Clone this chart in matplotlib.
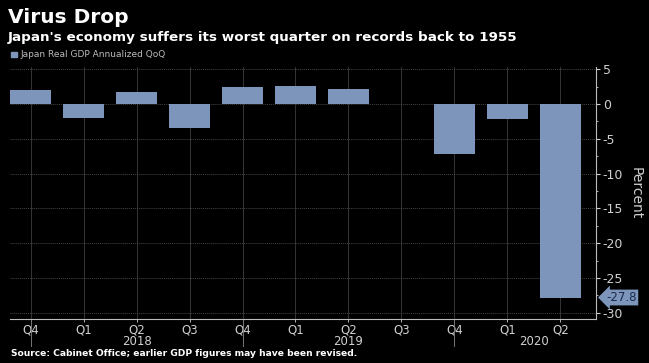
import matplotlib.pyplot as plt
import matplotlib.transforms as mtransforms
import numpy as np

quarters = ["Q4", "Q1", "Q2", "Q3", "Q4", "Q1", "Q2", "Q3", "Q4", "Q1", "Q2"]
gdp = [2.0, -2.0, 1.8, -3.4, 2.4, 2.6, 2.1, 0.05, -7.2, -2.2, -27.8]
years = ["2018", "2019", "2020"]
year_pos = [2, 6, 9.5]

bar_col = "#7d95bb"
txt_col = "#d0d0d0"

fig = plt.figure(figsize=(6.49, 3.63), dpi=100, facecolor="black")
ax = fig.add_axes([0.0154, 0.121, 0.9026, 0.694])
ax.set_facecolor("black")

x = np.arange(len(gdp))
ax.bar(x, gdp, width=0.78, color=bar_col, zorder=3)

ax.set_xlim(-0.39, 10.67)
ax.set_ylim(-30.9, 5.3)

# grid
for xi in x:
    ax.axvline(xi, color="#353535", lw=0.7, zorder=1)
for yv in range(5, -31, -5):
    ax.axhline(yv, color="#454545", lw=0.7, ls=(0, (1, 1)), zorder=1)

ax.yaxis.tick_right()
ax.set_yticks(range(5, -31, -5))
ax.set_yticklabels([str(v) for v in range(5, -31, -5)])
ax.set_yticks(np.arange(2.5, -31, -5), minor=True)
ax.tick_params(axis="y", which="major", colors=txt_col, labelsize=9, length=3, width=0.8, pad=2)
ax.tick_params(axis="y", which="minor", colors=txt_col, length=1.5, width=0.6)
ax.yaxis.set_label_position("right")
ax.set_ylabel("Percent", color=txt_col, fontsize=10, rotation=270, labelpad=14)

ax.set_xticks(x)
ax.set_xticklabels(quarters)
ax.tick_params(axis="x", colors=txt_col, labelsize=8.5, length=2, width=0.6, pad=1)

for s in ["top", "left"]:
    ax.spines[s].set_visible(False)
ax.spines["right"].set_color("#bbbbbb")
ax.spines["bottom"].set_color("#bbbbbb")
ax.spines["right"].set_linewidth(0.8)
ax.spines["bottom"].set_linewidth(0.8)

# year separators and labels
trans = mtransforms.blended_transform_factory(ax.transData, ax.transAxes)
for xp in [0, 4, 8]:
    ax.plot([xp, xp], [0, -0.105], transform=trans, color="#777777", lw=0.7, clip_on=False)
for yl, xp in zip(years, year_pos):
    ax.text(xp, -0.065, yl, transform=trans, ha="center", va="top", color=txt_col, fontsize=8.5)

# last value label
tr2 = mtransforms.blended_transform_factory(ax.transAxes, ax.transData)
ax.text(1.018, gdp[-1], "%.1f" % gdp[-1], transform=tr2, ha="left", va="center",
        color="#1a2a4a", fontsize=8.5,
        bbox=dict(boxstyle="larrow,pad=0.12", fc=bar_col, ec="none"))

# titles
fig.text(0.012, 0.952, "Virus Drop", color="white", fontsize=14.5, fontweight="bold", va="center")
fig.text(0.012, 0.898, "Japan's economy suffers its worst quarter on records back to 1955",
         color="white", fontsize=9.7, fontweight="bold", va="center")
fig.patches.append(plt.Rectangle((0.017, 0.842), 0.009, 0.016, transform=fig.transFigure,
                                 color=bar_col))
fig.text(0.031, 0.85, "Japan Real GDP Annualized QoQ", color="#bbbbbb", fontsize=6.5, va="center")
fig.text(0.017, 0.027, "Source: Cabinet Office; earlier GDP figures may have been revised.",
         color="white", fontsize=6.6, fontweight="bold", va="center")

fig.savefig("out.png", dpi=100, facecolor="black")
